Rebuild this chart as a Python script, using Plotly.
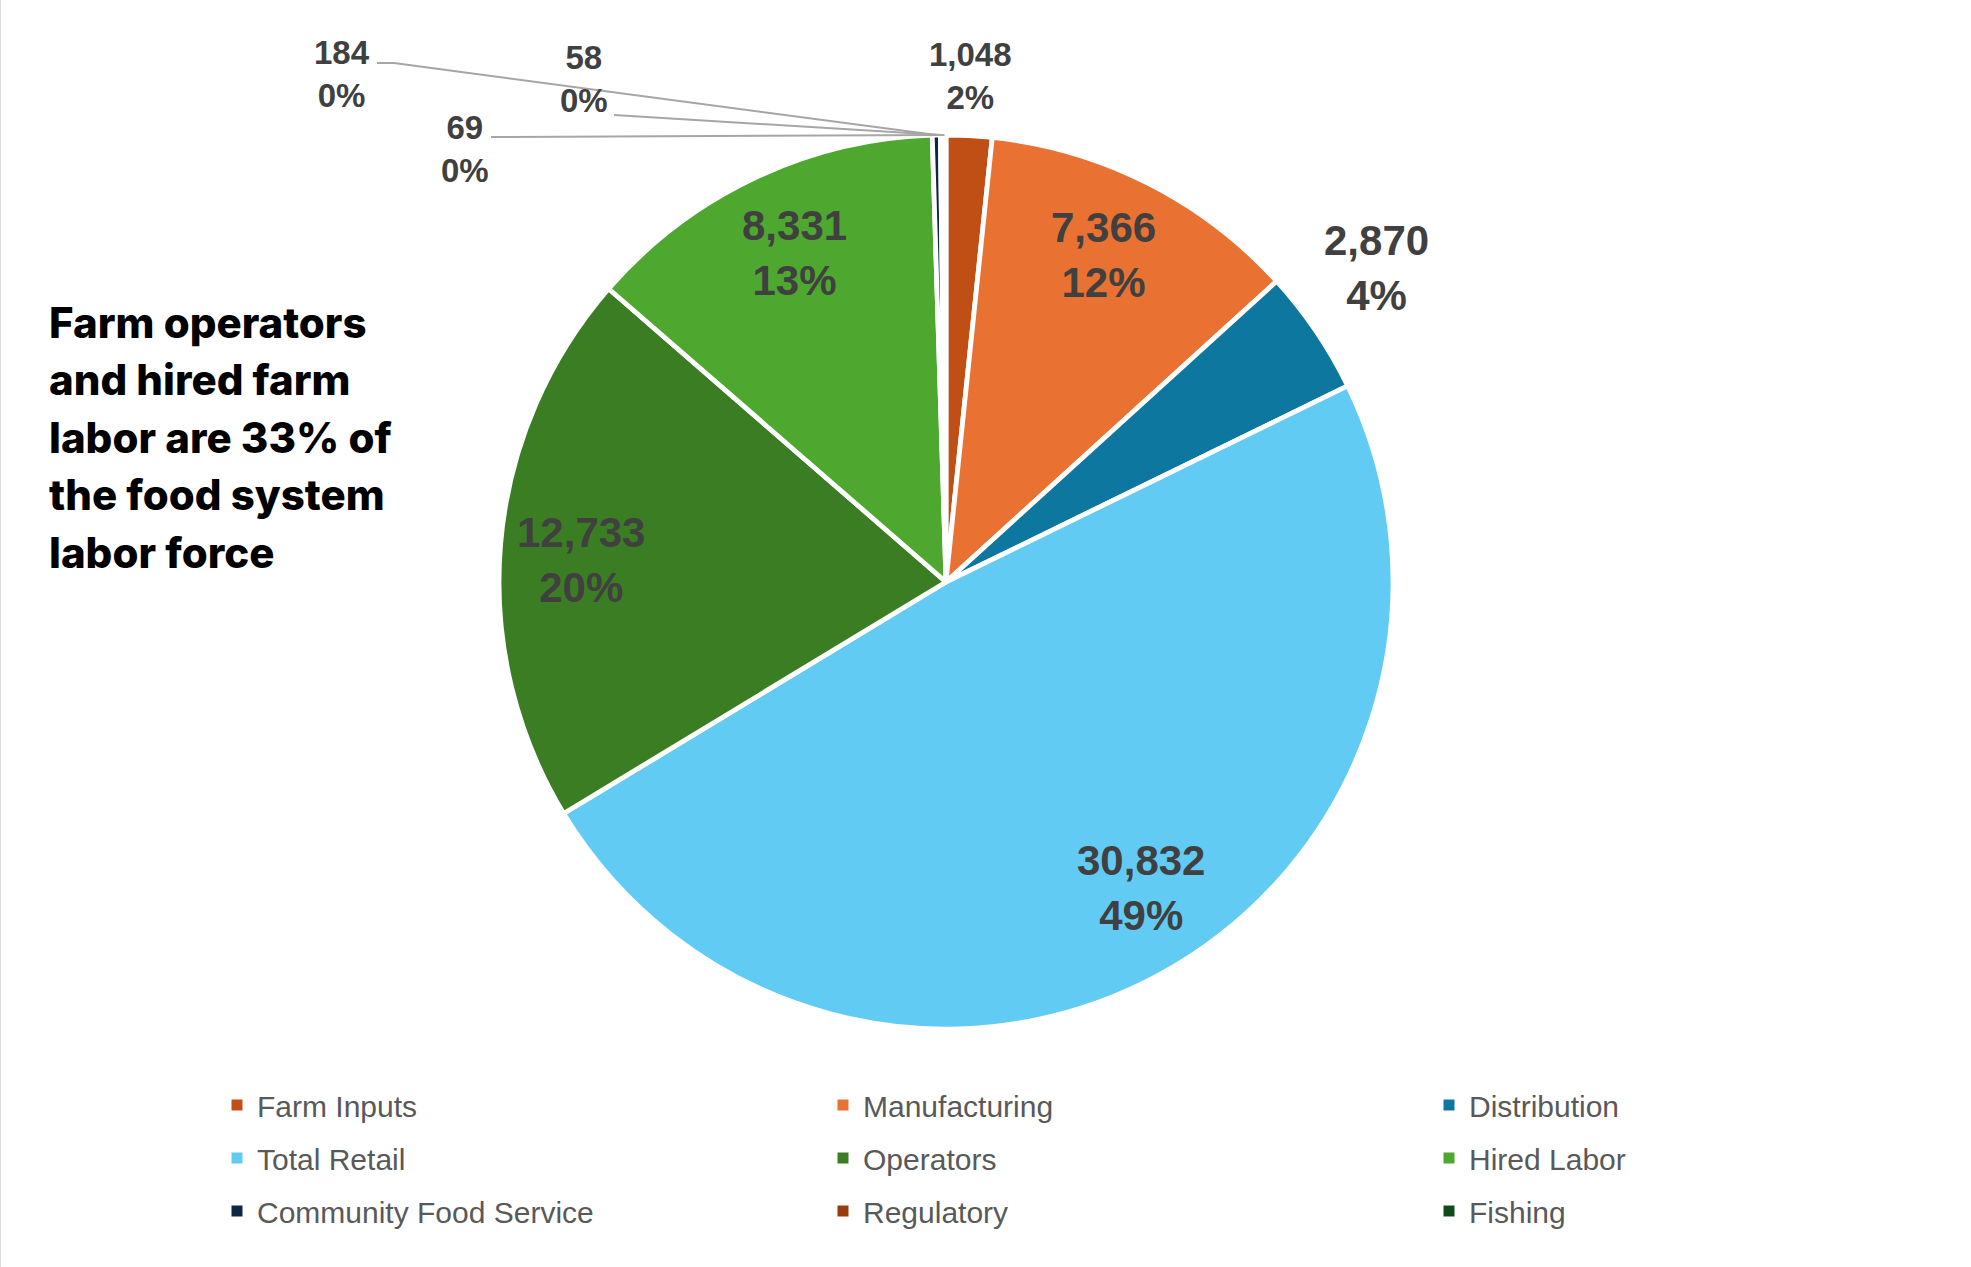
import math
import plotly.graph_objects as go

# ---- data -------------------------------------------------------------
categories = ["Farm Inputs", "Manufacturing", "Distribution", "Total Retail",
              "Operators", "Hired Labor", "Community Food Service",
              "Regulatory", "Fishing"]
workers = [1048, 7366, 2870, 30832, 12733, 8331, 184, 58, 69]
share_text = ["2%", "12%", "4%", "49%", "20%", "13%", "0%", "0%", "0%"]

note_lines = ["Farm operators", "and hired farm", "labor are 33% of",
              "the food system", "labor force"]

# ---- styling ----------------------------------------------------------
colors = ["#C04F15", "#E97132", "#0E77A0", "#61CBF4", "#3B7D23",
          "#4EA72E", "#0E2841", "#9A3A10", "#124A1C"]
label_size = [33, 42, 42, 42, 42, 42, 33, 33, 33]
LABEL_COLOR = "#404040"
LEADER_COLOR = "#A6A6A6"

W, H = 1971, 1267
CX, CY, R = 946, 582, 447          # pie centre and radius in pixels

# small pixel nudges for data labels
label_nudge = {1: (-6, -4), 2: (-9, 0), 3: (22, -12), 4: (-4, 9), 5: (4, -2)}

# callout label centres / leader start points for the thinnest slices
callouts = {
    6: dict(center=(342, 74), path=[(377, 63), (394, 63)]),
    7: dict(center=(584, 79), path=[(614, 115)]),
    8: dict(center=(465, 149), path=[(491, 137)]),
}

# legend grid: three columns, entries filled row by row
LEGEND_COLS_X = [217, 823, 1429]
LEGEND_TOP = 1079
LEGEND_ROW_GAP = 11


def fx(x):
    return x / W


def fy(y):
    return 1 - y / H


total = sum(workers)
mid_angles = []
acc = 0
for v in workers:
    mid_angles.append((acc + v / 2) / total * 2 * math.pi)
    acc += v

fig = go.Figure(go.Pie(
    labels=categories,
    values=workers,
    sort=False,
    direction="clockwise",
    rotation=0,
    marker=dict(colors=colors, line=dict(color="white", width=4.8)),
    textinfo="none",
    hoverinfo="label+value+percent",
    showlegend=False,
    domain=dict(x=[fx(CX - R), fx(CX + R)], y=[fy(CY + R), fy(CY - R)]),
))

# legend entries (one legend per column)
legend_ids = ["legend", "legend2", "legend3"]
for i, name in enumerate(categories):
    fig.add_trace(go.Scatter(
        x=[None], y=[None], mode="markers", name=name,
        marker=dict(symbol="square", size=11, color=colors[i]),
        legend=legend_ids[i % 3], legendgroup=name, showlegend=True,
        hoverinfo="skip",
    ))

annotations = []
shapes = []

for i, (v, pct, ang) in enumerate(zip(workers, share_text, mid_angles)):
    s, c = math.sin(ang), math.cos(ang)
    text = f"{v:,}<br>{pct}"
    font = dict(family="Liberation Sans", size=label_size[i], color=LABEL_COLOR, weight=700)
    share = v / total
    dx, dy = label_nudge.get(i, (0, 0))
    if i in callouts:
        co = callouts[i]
        lx, ly = co["center"]
        annotations.append(dict(x=fx(lx), y=fy(ly), xref="paper", yref="paper",
                                text=text, showarrow=False, font=font,
                                xanchor="center", yanchor="middle"))
        ex, ey = CX + R * s, CY - R * c
        pts = co["path"] + [(ex, ey)]
        path = "M " + " L ".join(f"{fx(px)} {fy(py)}" for px, py in pts)
        shapes.append(dict(type="path", xref="paper", yref="paper", path=path,
                           line=dict(color=LEADER_COLOR, width=2)))
    elif share < 0.08:
        rr = R + 18
        ax, ay = CX + rr * s + dx, CY - rr * c + dy
        xa = "left" if s > 0.3 else ("right" if s < -0.3 else "center")
        ya = "bottom" if c > 0.3 else ("top" if c < -0.3 else "middle")
        annotations.append(dict(x=fx(ax), y=fy(ay), xref="paper", yref="paper",
                                text=text, showarrow=False, font=font,
                                xanchor=xa, yanchor=ya))
    else:
        rr = R * 0.81
        ax, ay = CX + rr * s + dx, CY - rr * c + dy
        annotations.append(dict(x=fx(ax), y=fy(ay), xref="paper", yref="paper",
                                text=text, showarrow=False, font=font,
                                xanchor="center", yanchor="middle"))

# side note, one annotation per line
for k, line in enumerate(note_lines):
    baseline = 337 + 57.5 * k
    annotations.append(dict(x=fx(47), y=fy(baseline - 15), xref="paper", yref="paper",
                            text=line, showarrow=False, xanchor="left", yanchor="middle",
                            font=dict(family="Inter", size=42, color="#000000", weight=800)))

# thin frame edge on the left
shapes.append(dict(type="line", xref="paper", yref="paper",
                   x0=fx(0.5), x1=fx(0.5), y0=0, y1=1,
                   line=dict(color="#D9D9D9", width=1)))

legend_style = dict(
    orientation="v", xanchor="left", yanchor="top", y=fy(LEGEND_TOP),
    tracegroupgap=LEGEND_ROW_GAP, bgcolor="rgba(0,0,0,0)",
    font=dict(family="Liberation Sans", size=30, color="#595959"),
)

fig.update_layout(
    width=W, height=H,
    margin=dict(l=0, r=0, t=0, b=0),
    paper_bgcolor="white",
    plot_bgcolor="white",
    xaxis=dict(visible=False),
    yaxis=dict(visible=False),
    legend=dict(x=fx(LEGEND_COLS_X[0]), **legend_style),
    legend2=dict(x=fx(LEGEND_COLS_X[1]), **legend_style),
    legend3=dict(x=fx(LEGEND_COLS_X[2]), **legend_style),
    annotations=annotations,
    shapes=shapes,
)

fig.write_html("out.html")
